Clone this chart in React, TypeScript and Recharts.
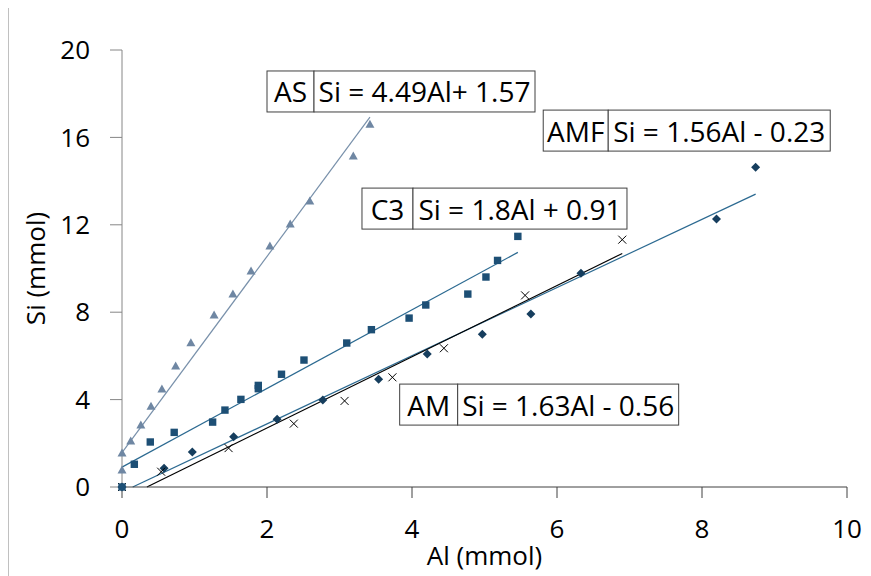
import { ScatterChart, Scatter, XAxis, YAxis, ReferenceLine, ReferenceDot, Label } from 'recharts';

// AS
const asAl = [0, 0, 0.12, 0.26, 0.4, 0.55, 0.74, 0.95, 1.27, 1.53, 1.78, 2.04, 2.32, 2.59, 3.19, 3.42];
const asSi = [0.78, 1.56, 2.1, 2.84, 3.7, 4.49, 5.54, 6.6, 7.87, 8.83, 9.89, 11.03, 12.04, 13.09, 15.15, 16.6];
// C3
const c3Al = [0, 0.17, 0.39, 0.72, 1.25, 1.42, 1.64, 1.88, 1.88, 2.2, 2.51, 3.1, 3.44, 3.96, 4.19, 4.77, 5.02, 5.18, 5.46];
const c3Si = [0, 1.04, 2.06, 2.5, 2.97, 3.52, 4.01, 4.65, 4.5, 5.16, 5.81, 6.59, 7.2, 7.73, 8.33, 8.83, 9.61, 10.37, 11.47];
// AM
const amAl = [0, 0.54, 1.47, 2.37, 3.07, 3.73, 4.44, 5.56, 6.9];
const amSi = [0, 0.7, 1.78, 2.9, 3.94, 5.02, 6.35, 8.77, 11.32];
// AMF
const amfAl = [0, 0.58, 0.97, 1.54, 2.14, 2.77, 3.54, 4.21, 4.97, 5.64, 6.33, 8.2, 8.74];
const amfSi = [0, 0.86, 1.6, 2.3, 3.1, 3.98, 4.93, 6.09, 6.99, 7.92, 9.78, 12.27, 14.63];

// trendline slope / intercept
const fits = [
  { name: 'AS', slope: 4.49, intercept: 1.57, al: asAl, color: '#7890aa' },
  { name: 'C3', slope: 1.8, intercept: 0.91, al: c3Al, color: '#2c6a91' },
  { name: 'AMF', slope: 1.56, intercept: -0.23, al: amfAl, color: '#2c6a91' },
  { name: 'AM', slope: 1.63, intercept: -0.56, al: amAl, color: '#000000' },
];

// equation boxes: tag, equation text, top-left anchor in data units
const boxes = [
  { tag: 'AS', eq: 'Si = 4.49Al+ 1.57', al: 2.0, si: 19.04, tagW: 47, eqW: 221 },
  { tag: 'AMF', eq: 'Si = 1.56Al - 0.23', al: 5.81, si: 17.25, tagW: 65, eqW: 222 },
  { tag: 'C3', eq: 'Si = 1.8Al + 0.91', al: 3.31, si: 13.68, tagW: 51, eqW: 214 },
  { tag: 'AM', eq: 'Si = 1.63Al - 0.56', al: 3.83, si: 4.71, tagW: 58, eqW: 221 },
];

const xTicks = [0, 2, 4, 6, 8, 10];
const yTicks = [0, 4, 8, 12, 16, 20];

const zip = (al: number[], si: number[]) => al.map((a, i) => ({ al: a, si: si[i] }));

const FONT = '"Open Sans", sans-serif';

const Tri = ({ cx, cy }: any) => (
  <path d={`M${cx},${cy - 4.5} L${cx + 4.5},${cy + 3.5} L${cx - 4.5},${cy + 3.5} Z`} fill="#6f87a3" />
);
const Sq = ({ cx, cy }: any) => <rect x={cx - 3.7} y={cy - 3.7} width={7.4} height={7.4} fill="#1d4f75" />;
const Dia = ({ cx, cy }: any) => (
  <path d={`M${cx},${cy - 4.5} L${cx + 4.5},${cy} L${cx},${cy + 4.5} L${cx - 4.5},${cy} Z`} fill="#163e5e" />
);
const Ex = ({ cx, cy }: any) => (
  <g stroke="#000" strokeWidth={1}>
    <line x1={cx - 4} y1={cy - 4} x2={cx + 4} y2={cy + 4} />
    <line x1={cx - 4} y1={cy + 4} x2={cx + 4} y2={cy - 4} />
  </g>
);

const EqBox = ({ cx, cy, tag, eq, tagW, eqW }: any) => {
  const h = 41;
  return (
    <g fontFamily={FONT} fontSize={28} fill="#000">
      <rect x={cx} y={cy} width={tagW} height={h} fill="#fff" stroke="#404040" strokeWidth={1} />
      <rect x={cx + tagW} y={cy} width={eqW} height={h} fill="#fff" stroke="#404040" strokeWidth={1} />
      <text x={cx + tagW / 2} y={cy + h / 2} textAnchor="middle" dominantBaseline="central" stroke="none" fill="#000">
        {tag}
      </text>
      <text x={cx + tagW + eqW / 2} y={cy + h / 2} textAnchor="middle" dominantBaseline="central" stroke="none" fill="#000">
        {eq}
      </text>
    </g>
  );
};

export default function App() {
  return (
    <div style={{ width: 862, height: 568, borderLeft: '1px solid #c0c0c0' }}>
      <ScatterChart width={862} height={568} margin={{ top: 42, right: 24, left: 23, bottom: 14 }}>
        <XAxis
          type="number"
          dataKey="al"
          domain={[0, 10]}
          ticks={xTicks}
          height={75}
          tickSize={11}
          tickMargin={22}
          stroke="#404040"
          tick={{ fontFamily: FONT, fontSize: 26, fill: '#000' }}
        >
          <Label
            content={({ viewBox }: any) => (
              <text
                x={viewBox.x + viewBox.width / 2}
                y={viewBox.y + 68}
                textAnchor="middle"
                dominantBaseline="central"
                fontFamily={FONT}
                fontSize={26}
                fill="#000"
              >
                Al (mmol)
              </text>
            )}
          />
        </XAxis>
        <YAxis
          type="number"
          dataKey="si"
          domain={[0, 20]}
          ticks={yTicks}
          width={90}
          tickSize={12}
          tickMargin={20}
          stroke="#868686"
          tick={{ fontFamily: FONT, fontSize: 26, fill: '#000' }}
        >
          <Label
            content={({ viewBox }: any) => {
              const x = viewBox.x + 3;
              const y = viewBox.y + viewBox.height / 2;
              return (
                <text
                  x={x}
                  y={y}
                  transform={`rotate(-90 ${x} ${y})`}
                  textAnchor="middle"
                  dominantBaseline="central"
                  fontFamily={FONT}
                  fontSize={26}
                  fill="#000"
                >
                  Si (mmol)
                </text>
              );
            }}
          />
        </YAxis>

        <Scatter name="AMF" data={zip(amfAl, amfSi)} shape={(p: any) => <Dia {...p} />} isAnimationActive={false} />
        <Scatter name="AM" data={zip(amAl, amSi)} shape={(p: any) => <Ex {...p} />} isAnimationActive={false} />
        <Scatter name="C3" data={zip(c3Al, c3Si)} shape={(p: any) => <Sq {...p} />} isAnimationActive={false} />
        <Scatter name="AS" data={zip(asAl, asSi)} shape={(p: any) => <Tri {...p} />} isAnimationActive={false} />

        {fits.map((f) => {
          const x0 = Math.max(0, -f.intercept / f.slope);
          const x1 = Math.max(...f.al);
          return (
            <ReferenceLine
              key={f.name}
              segment={[
                { x: x0, y: f.slope * x0 + f.intercept },
                { x: x1, y: f.slope * x1 + f.intercept },
              ]}
              stroke={f.color}
              strokeWidth={1.2}
              ifOverflow="visible"
            />
          );
        })}

        {boxes.map((b) => (
          <ReferenceDot
            key={b.tag}
            x={b.al}
            y={b.si}
            ifOverflow="visible"
            shape={(p: any) => <EqBox cx={p.cx} cy={p.cy} tag={b.tag} eq={b.eq} tagW={b.tagW} eqW={b.eqW} />}
          />
        ))}
      </ScatterChart>
    </div>
  );
}
